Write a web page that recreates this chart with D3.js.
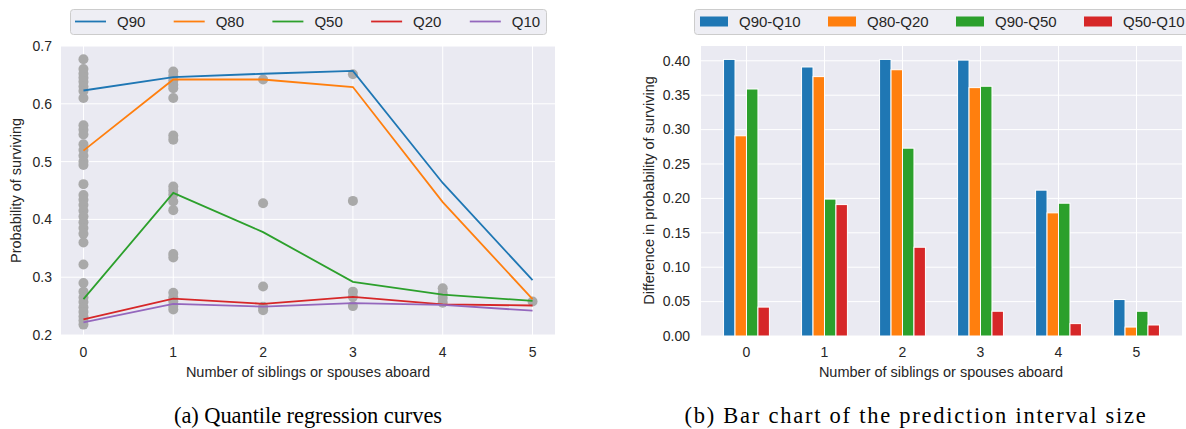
<!DOCTYPE html>
<html>
<head>
<meta charset="utf-8">
<script src="https://cdn.jsdelivr.net/npm/d3@7"></script>
<style>
  body { margin: 0; background: #fff; }
  svg text { font-family: "Liberation Sans", Arial, sans-serif; fill: #262626; }
  .caption { font-family: "Liberation Serif", "Times New Roman", serif; fill: #000; }
</style>
</head>
<body>
<svg id="chart" width="1186" height="429"></svg>
<script>
var siblings = [0, 1, 2, 3, 4, 5];
var quantNames = ["Q90", "Q80", "Q50", "Q20", "Q10"];
var q90 = [0.623, 0.646, 0.652, 0.657, 0.463, 0.295];
var q80 = [0.519, 0.642, 0.642, 0.629, 0.430, 0.262];
var q50 = [0.262, 0.446, 0.378, 0.292, 0.270, 0.259];
var q20 = [0.227, 0.263, 0.254, 0.266, 0.253, 0.251];
var q10 = [0.222, 0.254, 0.249, 0.255, 0.252, 0.242];

// observed points (x = siblings, y = predicted survival)
var obsX = [0,0,0,0,0,0,0,0,0,0,0,0,0,0,0,0,0,0,0,0,0,0,0,0,0,0,0,0,0,0,0,0,0,0,0,0,
            1,1,1,1,1,1,1,1,1,1,1,1,1,1,1,1,1,1,1,1,
            2,2,2,2,2,
            3,3,3,3,3,
            4,4,4,4,
            5];
var obsY = [0.677,0.660,0.652,0.645,0.638,0.630,0.622,0.610,0.563,0.555,0.547,0.530,0.520,0.510,0.500,0.494,
            0.461,0.442,0.434,0.425,0.415,0.405,0.395,0.385,0.375,0.360,0.322,0.290,0.275,0.265,0.257,0.248,0.240,0.232,0.225,0.218,
            0.656,0.648,0.640,0.633,0.627,0.610,0.545,0.538,0.457,0.450,0.443,0.431,0.416,0.340,0.334,0.273,0.265,0.258,0.250,0.244,
            0.642,0.428,0.284,0.249,0.243,
            0.651,0.432,0.275,0.266,0.250,
            0.281,0.272,0.264,0.256,
            0.258];

var diffNames = ["Q90-Q10", "Q80-Q20", "Q90-Q50", "Q50-Q10"];
var d9010 = [0.402, 0.391, 0.402, 0.401, 0.212, 0.053];
var d8020 = [0.291, 0.377, 0.387, 0.361, 0.179, 0.013];
var d9050 = [0.359, 0.199, 0.273, 0.363, 0.193, 0.036];
var d5010 = [0.042, 0.191, 0.129, 0.036, 0.018, 0.016];

var leftTicks = [0.2, 0.3, 0.4, 0.5, 0.6, 0.7];
var rightTicks = [0, 0.05, 0.1, 0.15, 0.2, 0.25, 0.3, 0.35, 0.4];

var colors = ["#1f77b4", "#ff7f0e", "#2ca02c", "#d62728", "#9467bd"];
var xTitle = "Number of siblings or spouses aboard";

var svg = d3.select("#chart");

// ---------- left panel ----------
var x1 = d3.scaleLinear().domain([-0.25, 5.25]).range([61, 555]);
var y1 = d3.scaleLinear().domain([0.2, 0.7]).range([335, 46]);

var left = svg.append("g");
left.append("rect")
    .attr("x", 61).attr("y", 46)
    .attr("width", 494).attr("height", 289)
    .attr("fill", "#eaeaf2");

left.selectAll(".hgrid")
    .data(leftTicks)
    .enter()
    .append("line")
    .attr("x1", 61).attr("x2", 555)
    .attr("y1", function(d) { return y1(d); })
    .attr("y2", function(d) { return y1(d); })
    .attr("stroke", "#fff").attr("stroke-width", 1);

left.selectAll(".vgrid")
    .data(siblings)
    .enter()
    .append("line")
    .attr("x1", function(d) { return x1(d); })
    .attr("x2", function(d) { return x1(d); })
    .attr("y1", 46).attr("y2", 335)
    .attr("stroke", "#fff").attr("stroke-width", 1);

left.selectAll("circle")
    .data(obsY)
    .enter()
    .append("circle")
    .attr("cx", function(d, i) { return x1(obsX[i]); })
    .attr("cy", function(d) { return y1(d); })
    .attr("r", 5)
    .attr("fill", "#a9a9a9");

var quantSeries = [q90, q80, q50, q20, q10];
var line1 = d3.line()
    .x(function(d, i) { return x1(siblings[i]); })
    .y(function(d) { return y1(d); });

left.selectAll(".qline")
    .data(quantSeries)
    .enter()
    .append("path")
    .attr("d", line1)
    .attr("fill", "none")
    .attr("stroke", function(d, i) { return colors[i]; })
    .attr("stroke-width", 1.8);

left.selectAll(".ytl")
    .data(leftTicks)
    .enter()
    .append("text")
    .attr("x", 52)
    .attr("y", function(d) { return y1(d); })
    .attr("dy", "0.35em")
    .style("text-anchor", "end")
    .style("font-size", "14px")
    .text(function(d) { return d3.format(".1f")(d); });

left.selectAll(".xtl")
    .data(siblings)
    .enter()
    .append("text")
    .attr("x", function(d) { return x1(d); })
    .attr("y", 357)
    .style("text-anchor", "middle")
    .style("font-size", "14px")
    .text(function(d) { return d; });

left.append("text")
    .attr("x", 308).attr("y", 377)
    .style("text-anchor", "middle")
    .style("font-size", "14.5px")
    .text(xTitle);

left.append("text")
    .attr("transform", "translate(21, 190.5) rotate(-90)")
    .style("text-anchor", "middle")
    .style("font-size", "14.5px")
    .text("Probability of surviving");

// legend
var legL = left.append("g");
legL.append("rect")
    .attr("x", 70.5).attr("y", 9.5)
    .attr("width", 476).attr("height", 25)
    .attr("rx", 3)
    .attr("fill", "#eeeef4").attr("stroke", "#cccccc");
var legItems = legL.selectAll(".li")
    .data(quantNames)
    .enter()
    .append("g")
    .attr("transform", function(d, i) { return "translate(" + (75 + i * 98.7) + ",21.5)"; });
legItems.append("line")
    .attr("x1", 0).attr("x2", 31)
    .attr("stroke", function(d, i) { return colors[i]; })
    .attr("stroke-width", 1.8);
legItems.append("text")
    .attr("x", 42).attr("dy", "0.36em")
    .style("font-size", "15px")
    .text(function(d) { return d; });

// ---------- right panel ----------
var x2 = d3.scaleLinear().domain([-0.583, 5.583]).range([701, 1182]);
var y2 = d3.scaleLinear().domain([0, 0.4215]).range([336, 46]);
var barW = 0.147;

var right = svg.append("g");
right.append("rect")
    .attr("x", 701).attr("y", 46)
    .attr("width", 481).attr("height", 290)
    .attr("fill", "#eaeaf2");

right.selectAll(".hgrid")
    .data(rightTicks)
    .enter()
    .append("line")
    .attr("x1", 701).attr("x2", 1182)
    .attr("y1", function(d) { return y2(d); })
    .attr("y2", function(d) { return y2(d); })
    .attr("stroke", "#fff").attr("stroke-width", 1);

right.selectAll(".vgrid")
    .data(siblings)
    .enter()
    .append("line")
    .attr("x1", function(d) { return x2(d); })
    .attr("x2", function(d) { return x2(d); })
    .attr("y1", 46).attr("y2", 336)
    .attr("stroke", "#fff").attr("stroke-width", 1);

var diffSeries = [d9010, d8020, d9050, d5010];
diffSeries.forEach(function(series, k) {
    right.selectAll(".bar" + k)
        .data(series)
        .enter()
        .append("rect")
        .attr("x", function(d, i) { return x2(siblings[i] + (k - 2) * barW); })
        .attr("y", function(d) { return y2(d); })
        .attr("width", x2(barW) - x2(0))
        .attr("height", function(d) { return y2(0) - y2(d); })
        .attr("fill", colors[k])
        .attr("stroke", "#fff")
        .attr("stroke-width", 1);
});

right.selectAll(".ytl")
    .data(rightTicks)
    .enter()
    .append("text")
    .attr("x", 690)
    .attr("y", function(d) { return y2(d); })
    .attr("dy", "0.35em")
    .style("text-anchor", "end")
    .style("font-size", "14px")
    .text(function(d) { return d3.format(".2f")(d); });

right.selectAll(".xtl")
    .data(siblings)
    .enter()
    .append("text")
    .attr("x", function(d) { return x2(d); })
    .attr("y", 357)
    .style("text-anchor", "middle")
    .style("font-size", "14px")
    .text(function(d) { return d; });

right.append("text")
    .attr("x", 941).attr("y", 377)
    .style("text-anchor", "middle")
    .style("font-size", "14.5px")
    .text(xTitle);

right.append("text")
    .attr("transform", "translate(654, 190.5) rotate(-90)")
    .style("text-anchor", "middle")
    .style("font-size", "14.5px")
    .text("Difference in probability of surviving");

var legR = right.append("g");
legR.append("rect")
    .attr("x", 694.5).attr("y", 9.5)
    .attr("width", 520).attr("height", 25)
    .attr("rx", 3)
    .attr("fill", "#eeeef4").attr("stroke", "#cccccc");
var legRItems = legR.selectAll(".li")
    .data(diffNames)
    .enter()
    .append("g")
    .attr("transform", function(d, i) { return "translate(" + (700 + i * 128) + ",21.5)"; });
legRItems.append("rect")
    .attr("x", 0).attr("y", -5)
    .attr("width", 28).attr("height", 10)
    .attr("fill", function(d, i) { return colors[i]; });
legRItems.append("text")
    .attr("x", 39).attr("dy", "0.36em")
    .style("font-size", "15px")
    .text(function(d) { return d; });

// ---------- captions ----------
// serif caption, widened a little with letter spacing to the LaTeX caption width
function caption(txt, cx, targetW) {
    var t = svg.append("text")
        .attr("class", "caption")
        .attr("x", cx).attr("y", 423)
        .style("text-anchor", "middle")
        .style("font-size", "22.5px")
        .text(txt);
    var w = t.node().getComputedTextLength();
    t.style("letter-spacing", ((targetW - w) / txt.length) + "px");
}
caption("(a) Quantile regression curves", 308, 268);
caption("(b) Bar chart of the prediction interval size", 916, 463);
</script>
</body>
</html>
